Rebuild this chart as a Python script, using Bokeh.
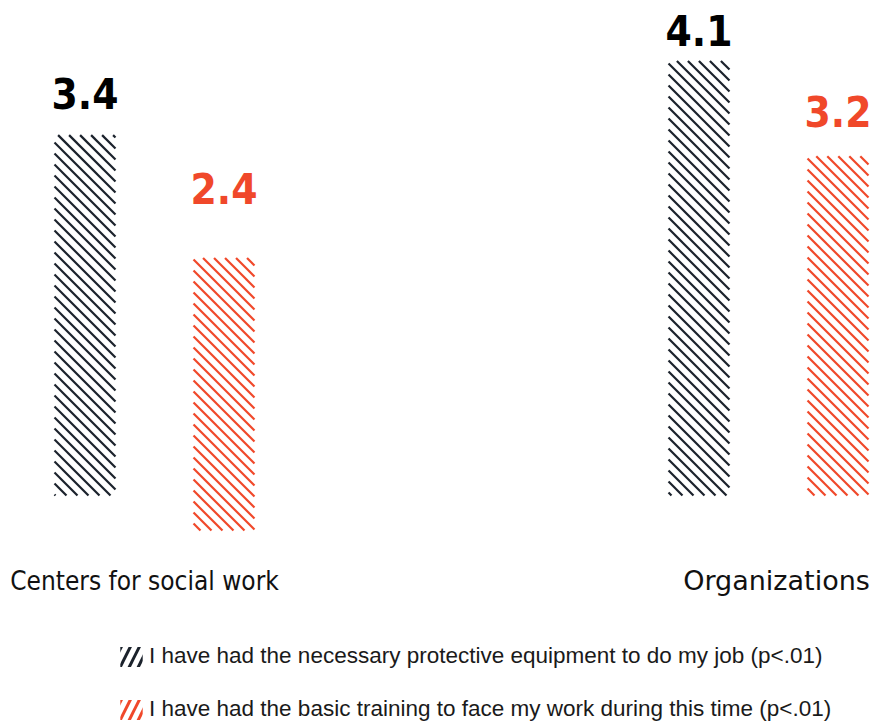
import math
from bokeh.plotting import figure
from bokeh.models import Range1d, Legend, LegendItem
from bokeh.core.properties import value
from bokeh.embed import file_html
from bokeh.resources import INLINE

# ---- data ----
groups = ["Centers for social work", "Organizations"]
equipment = [3.4, 4.1]
training = [2.4, 3.2]
series = [
    "I have had the necessary protective equipment to do my job (p<.01)",
    "I have had the basic training to face my work during this time (p<.01)",
]

# ---- styles ----
BAR_COLORS = ["#1b222c", "#f0482a"]
LABEL_COLORS = ["#000000", "#f0482a"]
DODGE = 0.1132
BAR_W = 0.0993
TR_TOP_DROP = [0.16, 0.0]      # the first red bar sits lower in the original
TR_BOTTOM_DROP = [0.33, 0.0]
EQ_LABEL_OFF = [-42, -30]
TR_LABEL_OFF = [-53, -45]
HATCH_SPACING = 11   # px, 45-degree "\" hatch
HATCH_W = 2.2

W, H = 877, 726
XR = (-0.2508, 1.1775)
YR = (-2.179, 4.670)
SX = W / (XR[1] - XR[0])
SY = H / (YR[1] - YR[0])

p = figure(width=W, height=H, output_backend="svg", toolbar_location=None,
           x_range=Range1d(*XR), y_range=Range1d(*YR), min_border=0)
p.xaxis.visible = False
p.yaxis.visible = False
p.xgrid.grid_line_color = None
p.ygrid.grid_line_color = None
p.outline_line_color = None
p.background_fill_color = "white"
p.border_fill_color = "white"

idx = list(range(len(groups)))
x_eq = [i - DODGE for i in idx]
x_tr = [i + DODGE for i in idx]


def hatch_segments(xc, bottom, top):
    """45-degree '\\' hatch lines clipped to a bar, in data coordinates."""
    x0, x1 = (xc - BAR_W / 2) * SX, (xc + BAR_W / 2) * SX
    y0, y1 = bottom * SY, top * SY
    k0 = math.ceil((x0 + y0) / HATCH_SPACING)
    k1 = math.floor((x1 + y1) / HATCH_SPACING)
    xs0, ys0, xs1, ys1 = [], [], [], []
    for k in range(k0, k1 + 1):
        c = k * HATCH_SPACING
        xa, xb = max(x0, c - y1), min(x1, c - y0)
        if xb - xa > 0.5:
            xs0.append(xa / SX); ys0.append((c - xa) / SY)
            xs1.append(xb / SX); ys1.append((c - xb) / SY)
    return xs0, ys0, xs1, ys1


eq_bars = [(x, 0.0, v) for x, v in zip(x_eq, equipment)]
tr_bars = [(x, -db, v - dt) for x, v, dt, db in zip(x_tr, training, TR_TOP_DROP, TR_BOTTOM_DROP)]
for bars, col in [(eq_bars, BAR_COLORS[0]), (tr_bars, BAR_COLORS[1])]:
    X0, Y0, X1, Y1 = [], [], [], []
    for xc, b, t in bars:
        a, bb, c, d = hatch_segments(xc, b, t)
        X0 += a; Y0 += bb; X1 += c; Y1 += d
    p.segment(x0=X0, y0=Y0, x1=X1, y1=Y1, line_color=col, line_width=HATCH_W,
              line_cap="butt")

# value labels
for xs, vals, col, off in [(x_eq, equipment, LABEL_COLORS[0], EQ_LABEL_OFF),
                           (x_tr, training, LABEL_COLORS[1], TR_LABEL_OFF)]:
    p.text(x=xs, y=vals, text=[f"{v:.1f}" for v in vals], text_align="center",
           text_baseline="middle", y_offset=off,
           text_font=value("DejaVu Sans Condensed"), text_font_style="bold",
           text_font_size="42px", text_color=col)

# category labels
p.text(x=[idx[0]], y=[0], text=[groups[0]], text_align="center",
       text_baseline="middle", y_offset=85, x_offset=-10,
       text_font=value("DejaVu Sans Condensed"), text_font_size="26px",
       text_color="#111111")
p.text(x=[idx[1]], y=[0], text=[groups[1]], text_align="center",
       text_baseline="middle", y_offset=85, x_offset=8,
       text_font=value("DejaVu Sans"), text_font_size="27px",
       text_color="#111111")

# legend with "/" hatched icons (dummy renderers placed outside the view)
dummies = []
for c in BAR_COLORS:
    r = p.vbar(x=[-50], top=[-100], bottom=[-101], width=0.1, fill_color=None,
               line_color=None, hatch_pattern="/", hatch_color=c,
               hatch_scale=18, hatch_weight=3)
    dummies.append(r)

legend = Legend(items=[LegendItem(label=series[i], renderers=[dummies[i]]) for i in range(2)],
                location=(117, 4), orientation="vertical",
                glyph_width=28, glyph_height=25, label_standoff=4, spacing=27,
                padding=0, margin=0, border_line_color=None,
                background_fill_alpha=0,
                label_text_font="Liberation Sans", label_text_font_size="22.5px",
                label_text_color="#1a1a1a")
p.add_layout(legend)

open("out.html", "w").write(file_html(p, INLINE))
